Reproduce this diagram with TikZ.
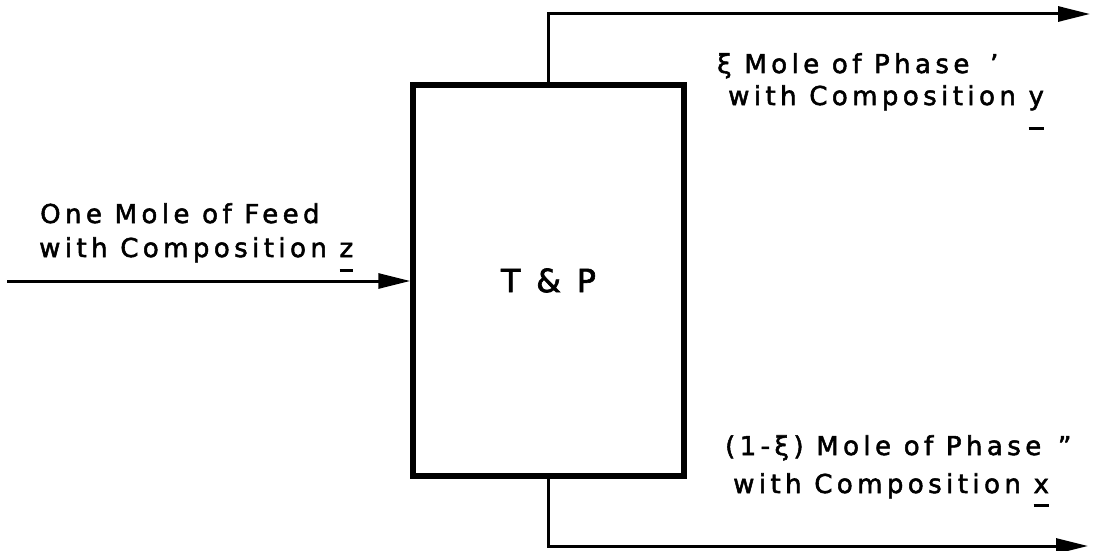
\documentclass[tikz,border=0pt]{standalone}
\usepackage{fontspec}
\setmainfont{DejaVu Sans}[LetterSpace=17,FakeBold=2]
\usetikzlibrary{arrows.meta}
\newcommand\ulmark[2]{\setbox0\hbox{#2}\rlap{\rule[-#1]{\wd0}{2.6pt}}\box0}
\begin{document}
\begin{tikzpicture}[x=1pt,y=-1pt,
  conn/.style={line width=3pt,-{Triangle[length=32pt,width=15pt]}},
  lbl/.style={anchor=base west,inner sep=0pt,font=\fontsize{26}{31}\selectfont},
  unit/.style={draw,line width=5.5pt,minimum width=271pt,minimum height=391pt,inner sep=0pt,font=\fontsize{32}{38}\selectfont}]
\useasboundingbox (0,0) rectangle (1098,551);
\node[unit] (box) at (548.5,280.5) {T \& P};
\coordinate (feedin) at (7,281);
\coordinate (vapout) at (1090,14);
\coordinate (liqout) at (1088,546);
\draw[conn] (feedin) -- (feedin -| box.west);
\draw[conn] (box.north) |- (vapout);
\draw[conn] (box.south) |- (liqout);
\node[lbl] (feed1) at (40,223) {One Mole of Feed};
\node[lbl] (feed2) at (39,257) {with Composition \ulmark{15pt}{z}};
\node[lbl] (vap1) at (717,73) {ξ Mole of Phase\hspace{8pt} '};
\node[lbl] (vap2) at (728,105) {with Composition \ulmark{25pt}{y}};
\node[lbl] (liq1) at (725,455) {(1-ξ) Mole of Phase\hspace{4pt} ''};
\node[lbl] (liq2) at (733,493) {with Composition \ulmark{14pt}{x}};
\end{tikzpicture}
\end{document}
